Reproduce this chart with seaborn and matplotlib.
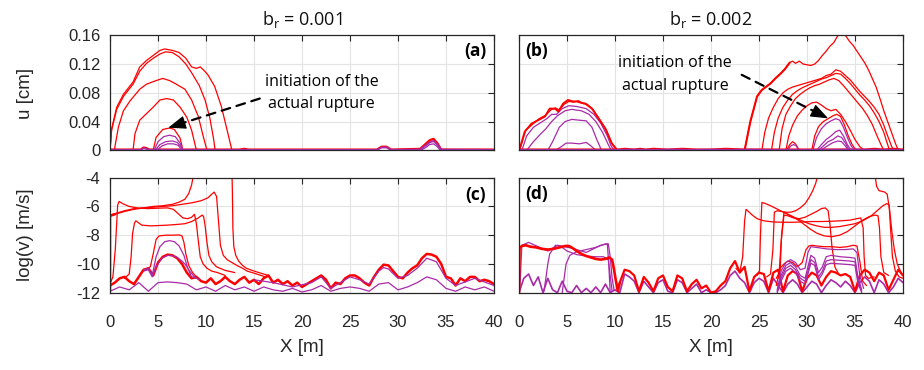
import matplotlib
matplotlib.use("Agg")
import matplotlib.pyplot as plt
import numpy as np
import pandas as pd
import seaborn as sns

sns.set_style("white")
plt.rcParams['font.family'] = ['Liberation Sans', 'DejaVu Sans']
plt.rcParams['axes.unicode_minus'] = False

RED = "#ff0000"
PURPLE = "#a92aa9"
INK = "#262626"

# ---------------- ticks / labels ----------------
x_ticks = [0, 5, 10, 15, 20, 25, 30, 35, 40]
x_tick_labels = ['0', '5', '10', '15', '20', '25', '30', '35', '40']
u_ticks = [0, 0.04, 0.08, 0.12, 0.16]
u_tick_labels = ['0', '0.04', '0.08', '0.12', '0.16']
v_ticks = [-12, -10, -8, -6, -4]
v_tick_labels = ['-12', '-10', '-8', '-6', '-4']
titles = [r'b$_\mathregular{r}$ = 0.001', r'b$_\mathregular{r}$ = 0.002']
panel_labels = ['(a)', '(b)', '(c)', '(d)']
note_lines = ['initiation of the', 'actual rupture']

# ---------------- panel (a): slip u [cm], b_r = 0.001 ----------------
a1_x = [0.0, 0.17, 0.7, 1.4, 2.4, 3.1, 3.8, 4.5, 5.2, 5.7, 6.1, 6.5, 7.2, 7.9, 8.5, 9.0, 9.4, 9.8, 10.2, 10.9, 11.6, 12.2, 12.7]
a1_u = [0.0, 0.030, 0.060, 0.078, 0.095, 0.116, 0.125, 0.132, 0.139, 0.141, 0.140, 0.139, 0.136, 0.128, 0.116, 0.114, 0.116, 0.111, 0.105, 0.089, 0.061, 0.028, 0.0]
a2_x = [0.0, 0.17, 0.7, 1.4, 2.4, 3.1, 3.8, 4.5, 5.2, 5.8, 6.5, 7.2, 7.9, 8.5, 9.3, 9.9, 10.4, 10.8, 10.95]
a2_u = [0.0, 0.028, 0.057, 0.075, 0.092, 0.110, 0.121, 0.128, 0.134, 0.137, 0.136, 0.130, 0.120, 0.108, 0.090, 0.070, 0.045, 0.015, 0.0]
a3_x = [0.45, 0.87, 1.4, 2.1, 3.1, 3.8, 4.8, 5.5, 6.2, 6.9, 7.8, 8.5, 9.2, 9.7, 10.1]
a3_u = [0.0, 0.032, 0.055, 0.069, 0.085, 0.092, 0.097, 0.100, 0.097, 0.092, 0.085, 0.070, 0.047, 0.020, 0.0]
a4_x = [2.4, 2.6, 3.1, 3.8, 4.5, 5.2, 5.9, 6.6, 7.3, 8.0, 8.5, 9.0]
a4_u = [0.0, 0.023, 0.042, 0.051, 0.060, 0.070, 0.072, 0.070, 0.060, 0.046, 0.028, 0.0]
a5_x = [4.5, 4.8, 5.5, 6.2, 6.7, 7.3, 7.6]
a5_u = [0.0, 0.018, 0.029, 0.031, 0.029, 0.017, 0.0]
ap1_x = [4.6, 5.0, 5.6, 6.2, 6.8, 7.3, 7.6]
ap1_u = [0.0, 0.012, 0.019, 0.021, 0.019, 0.010, 0.0]
ap2_x = [4.7, 5.2, 5.8, 6.5, 7.0, 7.4, 7.6]
ap2_u = [0.0, 0.008, 0.012, 0.013, 0.011, 0.005, 0.0]
ap3_x = [4.9, 5.4, 6.0, 6.6, 7.1, 7.5]
ap3_u = [0.0, 0.006, 0.009, 0.009, 0.007, 0.0]
a_base_red_x = [0.0, 3.2, 3.5, 3.8, 4.1, 13.5, 14.0, 14.4, 27.8, 28.3, 28.8, 29.3, 32.3, 32.8, 33.3, 33.7, 34.1, 34.5, 40.0]
a_base_red_u = [0.001, 0.001, 0.004, 0.003, 0.001, 0.001, 0.002, 0.001, 0.001, 0.005, 0.005, 0.001, 0.002, 0.008, 0.014, 0.016, 0.010, 0.001, 0.001]
a_base_pur_x = [0.0, 3.2, 3.5, 3.8, 4.1, 27.8, 28.3, 28.8, 29.3, 32.3, 32.8, 33.3, 33.7, 34.1, 34.5, 40.0]
a_base_pur_u = [0.0005, 0.0005, 0.003, 0.002, 0.0005, 0.0005, 0.004, 0.004, 0.0005, 0.001, 0.006, 0.011, 0.013, 0.008, 0.001, 0.0005]
a_bump_pur_x = [32.4, 32.9, 33.3, 33.7, 34.1, 34.4]
a_bump_pur_u = [0.0, 0.004, 0.008, 0.009, 0.005, 0.0]

# ---------------- panel (b): slip u [cm], b_r = 0.002 ----------------
b_left1_x = [0.0, 0.1, 0.6, 1.3, 2.0, 2.7, 3.2, 3.75, 4.1, 4.6, 5.1, 5.6, 6.0, 6.5, 6.9, 7.6, 8.3, 9.0, 9.65, 10.2]
b_left1_u = [0.0, 0.003, 0.026, 0.037, 0.042, 0.047, 0.058, 0.058, 0.054, 0.065, 0.070, 0.068, 0.068, 0.066, 0.065, 0.058, 0.044, 0.030, 0.010, 0.0]
b_left2_x = [0.0, 0.2, 0.7, 1.4, 2.1, 2.8, 3.3, 3.8, 4.2, 4.7, 5.2, 5.7, 6.2, 6.7, 7.1, 7.7, 8.4, 9.1, 9.7, 10.3]
b_left2_u = [0.0, 0.006, 0.028, 0.036, 0.044, 0.049, 0.056, 0.059, 0.056, 0.064, 0.068, 0.067, 0.069, 0.065, 0.064, 0.057, 0.043, 0.028, 0.009, 0.0]
bp1_x = [0.3, 0.8, 1.5, 2.2, 2.9, 3.4, 3.9, 4.5, 5.2, 6.0, 7.0, 7.8, 8.5, 9.2, 9.6, 9.9]
bp1_u = [0.0, 0.020, 0.032, 0.038, 0.044, 0.050, 0.050, 0.058, 0.062, 0.061, 0.058, 0.050, 0.038, 0.020, 0.006, 0.0]
bp2_x = [0.8, 1.5, 2.2, 2.8, 3.4, 4.0, 4.8, 5.5, 6.5, 7.3, 8.0, 8.7, 9.3, 9.6]
bp2_u = [0.0, 0.012, 0.022, 0.030, 0.040, 0.048, 0.055, 0.057, 0.055, 0.050, 0.040, 0.025, 0.008, 0.0]
bp3_x = [3.0, 3.5, 4.2, 4.8, 5.5, 6.2, 7.0, 7.6, 8.1, 8.6]
bp3_u = [0.0, 0.012, 0.032, 0.040, 0.043, 0.042, 0.041, 0.032, 0.015, 0.0]
bp4_x = [3.8, 4.4, 4.9, 5.5, 6.3, 7.0, 7.5, 8.0]
bp4_u = [0.0, 0.005, 0.010, 0.010, 0.009, 0.011, 0.006, 0.0]
b1_x = [23.5, 23.8, 24.1, 24.5, 24.8, 25.3, 25.8, 26.2, 26.7, 27.2, 27.7, 28.2, 28.5, 28.8, 29.2, 29.6, 30.0, 30.4, 30.8, 31.2, 31.6, 32.0, 32.4, 32.8, 33.1, 33.4, 33.7, 34.0, 34.4, 34.8, 35.2, 35.6, 36.0, 36.4, 36.8, 37.2, 37.6, 38.0, 38.4, 38.8, 39.2, 39.5]
b1_u = [0.0, 0.020, 0.040, 0.060, 0.075, 0.084, 0.089, 0.093, 0.100, 0.106, 0.113, 0.122, 0.124, 0.121, 0.124, 0.120, 0.119, 0.118, 0.120, 0.125, 0.132, 0.138, 0.145, 0.150, 0.157, 0.163, 0.165, 0.160, 0.152, 0.146, 0.138, 0.130, 0.122, 0.112, 0.100, 0.088, 0.072, 0.055, 0.040, 0.025, 0.010, 0.0]
b2_x = [25.3, 25.6, 26.0, 26.5, 27.0, 27.5, 28.0, 28.5, 29.0, 29.5, 30.0, 30.5, 31.0, 31.5, 32.0, 32.5, 33.0, 33.5, 34.0, 34.5, 35.0, 35.5, 36.0, 36.5, 37.0, 37.5, 38.0, 38.4, 38.8, 39.0]
b2_u = [0.0, 0.025, 0.045, 0.060, 0.072, 0.080, 0.085, 0.088, 0.090, 0.092, 0.094, 0.096, 0.098, 0.100, 0.104, 0.106, 0.112, 0.110, 0.104, 0.098, 0.090, 0.082, 0.075, 0.068, 0.060, 0.050, 0.035, 0.020, 0.006, 0.0]
b3_x = [26.3, 26.6, 27.0, 27.5, 28.0, 28.5, 29.0, 29.5, 30.0, 30.5, 31.0, 31.5, 32.0, 32.5, 33.0, 33.5, 34.0, 34.5, 35.0, 35.5, 36.0, 36.5, 37.0, 37.5, 38.0, 38.3, 38.6]
b3_u = [0.0, 0.025, 0.045, 0.060, 0.070, 0.078, 0.083, 0.087, 0.090, 0.093, 0.096, 0.099, 0.101, 0.104, 0.107, 0.106, 0.100, 0.093, 0.085, 0.077, 0.070, 0.062, 0.052, 0.040, 0.025, 0.012, 0.0]
b4_x = [27.1, 27.4, 27.8, 28.3, 28.8, 29.3, 29.8, 30.3, 30.8, 31.3, 31.8, 32.3, 32.8, 33.3, 33.8, 34.3, 34.8, 35.3, 35.8, 36.3, 36.8, 37.3, 37.7, 38.0]
b4_u = [0.0, 0.030, 0.050, 0.062, 0.072, 0.078, 0.083, 0.087, 0.090, 0.092, 0.095, 0.098, 0.100, 0.097, 0.090, 0.082, 0.074, 0.066, 0.058, 0.048, 0.036, 0.020, 0.008, 0.0]
b5_x = [27.8, 28.1, 28.5, 29.0, 29.5, 30.0, 30.5, 31.0, 31.5, 32.0, 32.5, 33.0, 33.5, 34.0, 34.5, 35.0, 35.5, 36.0]
b5_u = [0.0, 0.020, 0.035, 0.048, 0.056, 0.062, 0.066, 0.067, 0.063, 0.058, 0.055, 0.057, 0.050, 0.040, 0.028, 0.015, 0.005, 0.0]
b6_x = [30.5, 30.8, 31.2, 31.7, 32.2, 32.7, 33.1, 33.5, 33.9, 34.3, 34.7, 35.1]
b6_u = [0.0, 0.020, 0.033, 0.040, 0.044, 0.048, 0.050, 0.047, 0.035, 0.020, 0.008, 0.0]
bp5_x = [30.6, 31.0, 31.5, 32.0, 32.5, 33.0, 33.4, 33.8, 34.2, 34.6, 35.0]
bp5_u = [0.0, 0.018, 0.030, 0.037, 0.041, 0.044, 0.042, 0.032, 0.018, 0.006, 0.0]
bp6_x = [31.0, 31.5, 32.0, 32.5, 33.0, 33.4, 33.8, 34.2, 34.6]
bp6_u = [0.0, 0.008, 0.015, 0.020, 0.026, 0.028, 0.020, 0.008, 0.0]
bp7_x = [31.2, 31.7, 32.2, 32.7, 33.2, 33.6, 34.0, 34.4]
bp7_u = [0.0, 0.006, 0.012, 0.015, 0.020, 0.018, 0.010, 0.0]
bp8_x = [31.4, 32.0, 32.6, 33.2, 33.6, 34.0, 34.3]
bp8_u = [0.0, 0.005, 0.010, 0.013, 0.012, 0.006, 0.0]
b_bump_red_x = [27.9, 28.2, 28.5, 28.8, 29.2]
b_bump_red_u = [0.0, 0.008, 0.012, 0.009, 0.0]
b_bump_pur_x = [28.0, 28.3, 28.6, 28.9, 29.1]
b_bump_pur_u = [0.0, 0.006, 0.008, 0.006, 0.0]
b_base_red_x = [0.0, 10.3, 11.0, 12.0, 12.6, 13.2, 14.0, 15.5, 17.0, 18.5, 20.0, 21.5, 23.5, 36.0, 37.0, 38.0, 39.0, 40.0]
b_base_red_u = [0.001, 0.001, 0.002, 0.001, 0.002, 0.001, 0.002, 0.001, 0.002, 0.001, 0.001, 0.002, 0.001, 0.001, 0.002, 0.001, 0.002, 0.001]
b_base_pur_x = [0.0, 10.0, 12.0, 14.0, 16.0, 18.0, 20.0, 22.0, 24.0, 27.0, 30.0, 35.0, 40.0]
b_base_pur_u = [0.0005, 0.0005, 0.001, 0.0005, 0.001, 0.0005, 0.001, 0.0005, 0.001, 0.0005, 0.0005, 0.001, 0.0005]

# ---------------- panel (c): log(v) [m/s], b_r = 0.001 ----------------
c_top1_x = [0.0, 0.0, 0.5, 1.5, 2.5, 3.5, 4.5, 5.5, 6.5, 7.2, 7.8, 8.2, 8.5, 8.7, 8.8]
c_top1_v = [-11.9, -6.65, -6.55, -6.35, -6.2, -6.1, -6.0, -5.95, -5.85, -5.7, -5.5, -5.1, -4.5, -3.8, -3.0]
c_top2_x = [0.0, 0.5, 1.5, 2.5, 3.5, 4.5, 5.5, 6.5, 7.5, 8.5, 9.5, 10.2, 10.6, 10.85, 11.1, 11.3, 11.5, 11.8, 12.2, 12.7, 13.2, 13.8, 14.3, 14.8, 15.5, 16.2]
c_top2_v = [-6.6, -6.5, -6.3, -6.15, -6.1, -6.05, -6.0, -5.95, -5.85, -5.75, -5.6, -5.4, -5.15, -5.0, -5.3, -7.0, -8.7, -9.4, -9.7, -9.9, -10.1, -10.3, -10.5, -10.6, -10.75, -10.9]
c_mid1_x = [0.05, 0.3, 0.55, 0.8, 0.95, 1.3, 2.0, 3.0, 4.0, 5.0, 6.0, 6.6, 7.1, 7.6, 8.1, 8.5, 8.8, 9.0, 9.2, 9.4, 9.7, 10.1, 10.6, 11.2, 12.0]
c_mid1_v = [-11.3, -10.9, -9.0, -5.9, -5.65, -5.8, -6.0, -6.12, -6.15, -6.12, -6.1, -6.2, -6.5, -6.8, -6.85, -6.75, -6.55, -7.2, -8.4, -9.5, -10.0, -10.3, -10.5, -10.6, -10.8]
c_mid2_x = [1.5, 2.0, 2.2, 2.35, 2.55, 2.7, 3.3, 4.2, 5.0, 6.0, 7.0, 7.8, 8.5, 9.2, 9.6, 9.75, 9.9, 10.1, 10.3, 10.6, 11.1, 12.0, 13.0]
c_mid2_v = [-11.0, -10.7, -9.5, -7.9, -7.15, -7.0, -7.3, -7.35, -7.33, -7.3, -7.25, -7.2, -7.05, -6.8, -6.6, -6.7, -7.3, -8.5, -9.4, -9.85, -10.2, -10.45, -10.6]
c_mid3_x = [3.9, 4.2, 4.5, 4.8, 5.1, 5.8, 6.5, 7.2, 7.5, 7.7, 7.9, 8.2, 8.6, 9.0]
c_mid3_v = [-10.3, -10.2, -9.3, -8.3, -8.05, -8.0, -8.0, -7.98, -8.05, -8.5, -9.3, -10.1, -10.6, -10.9]
c_front_x = [0.0, 12.6, 12.7, 12.75, 12.8, 12.9, 13.1, 13.4, 13.8, 14.2, 14.8, 15.5, 16.5]
c_front_v = [-3.0, -3.0, -3.5, -5.0, -7.5, -8.8, -9.4, -9.8, -10.1, -10.3, -10.45, -10.6, -10.8]
c_base_red_x = list(np.arange(0, 40.5, 0.5))
c_base_red_v = [-11.5, -11.3, -11.0, -10.9, -11.2, -11.4, -10.9, -10.4, -10.3, -10.8,
                -9.9, -9.5, -9.35, -9.4, -9.6, -10.0, -10.6, -11.0, -10.9, -11.2,
                -11.3, -11.0, -11.4, -11.2, -10.9, -11.2, -11.4, -11.1, -10.9, -11.3,
                -11.1, -11.4, -11.0, -10.8, -11.3, -11.1, -11.4, -11.2, -11.5, -11.3,
                -11.6, -11.4, -11.2, -11.0, -10.8, -11.1, -11.7, -11.3, -11.4, -11.0,
                -10.8, -10.8, -11.0, -11.3, -11.5, -10.9, -10.4, -10.05, -10.1, -10.5,
                -10.9, -11.0, -10.6, -10.3, -10.1, -9.6, -9.3, -9.35, -9.5, -10.0,
                -10.9, -11.0, -11.5, -11.0, -11.2, -10.9, -10.9, -11.2, -11.1, -11.2, -11.4]
cp1_x = [3.5, 4.0, 4.4, 4.8, 5.2, 5.7, 6.2, 6.7, 7.2, 7.7, 8.1, 8.5, 9.0]
cp1_v = [-10.4, -10.3, -10.8, -9.5, -8.8, -8.45, -8.38, -8.45, -8.75, -9.4, -10.3, -10.9, -11.0]
cp2_x = [3.5, 4.0, 4.4, 4.8, 5.4, 6.1, 6.9, 7.5, 7.8, 8.3, 8.8, 9.3]
cp2_v = [-10.5, -10.4, -10.9, -10.2, -9.6, -9.38, -9.5, -9.8, -10.0, -10.5, -10.9, -11.1]
cp_low_x = list(np.arange(0, 41, 1))
cp_low_v = [-11.9, -11.6, -11.8, -11.3, -11.9, -11.3, -11.25, -11.3, -11.4, -11.8,
            -11.6, -11.9, -11.5, -11.8, -11.6, -11.9, -11.6, -11.8, -11.9, -11.7,
            -11.95, -11.8, -11.5, -11.9, -11.7, -11.6, -11.7, -11.9, -11.4, -11.3,
            -11.8, -11.6, -11.3, -10.9, -11.1, -11.7, -11.9, -11.6, -11.8, -11.6, -11.9]
cp_hi_x = [15.0, 17.0, 19.0, 21.0, 22.0, 23.0, 25.0, 26.0, 27.0, 28.0, 28.5, 29.0, 30.0, 31.0, 32.0, 33.0, 34.0, 35.0, 36.0, 38.0, 40.0]
cp_hi_v = [-11.1, -11.3, -11.6, -11.3, -10.9, -11.7, -10.9, -11.1, -11.4, -10.5, -10.25, -10.35, -11.0, -10.8, -10.3, -9.6, -9.85, -11.0, -11.5, -11.0, -11.5]

# ---------------- panel (d): log(v) [m/s], b_r = 0.002 ----------------
d_left_red_x = [0.0, 0.05, 0.3, 0.7, 1.2, 1.8, 2.4, 3.0, 3.6, 4.2, 4.8, 5.2, 5.6, 6.0, 6.5, 7.0, 7.5, 8.0, 8.5, 9.0, 9.4, 9.7, 9.9, 10.1, 10.3, 10.5]
d_left_red_v = [-12.0, -8.9, -8.75, -8.7, -8.8, -8.85, -8.95, -9.0, -8.95, -8.85, -8.75, -8.75, -8.9, -9.1, -9.3, -9.45, -9.55, -9.65, -9.7, -9.65, -9.55, -9.7, -10.4, -11.2, -11.9, -11.3]
dp1_x = [0.1, 0.3, 1.0, 2.0, 3.0, 4.0, 5.5, 7.0, 8.5, 9.3, 9.5, 9.7, 9.9]
dp1_v = [-11.5, -8.7, -8.5, -8.8, -9.1, -8.7, -8.9, -9.2, -8.7, -8.6, -9.5, -11.0, -11.8]
dp2_x = [2.6, 2.8, 3.0, 3.2, 3.8, 4.4, 5.0, 6.0, 7.0, 8.0, 8.8, 9.3, 9.5, 9.7]
dp2_v = [-11.9, -11.0, -10.0, -9.3, -8.7, -8.8, -9.1, -9.35, -9.45, -9.5, -9.5, -9.7, -10.8, -11.9]
dp3_x = [4.5, 4.7, 4.9, 5.3, 6.0, 7.0, 8.0, 8.6, 9.0, 9.2, 9.35, 9.5]
dp3_v = [-12.0, -11.0, -10.0, -9.4, -9.15, -9.0, -8.85, -8.7, -8.6, -8.6, -10.0, -12.0]
d1_x = [22.6, 23.0, 23.3, 23.5, 23.65, 23.9, 24.3, 24.8, 25.5, 26.5, 27.5, 28.5, 29.5, 30.5, 31.5, 32.5, 33.5, 34.5, 35.2, 35.6, 35.85, 35.95, 36.1, 36.4, 37.0]
d1_v = [-10.3, -10.6, -9.5, -7.0, -6.2, -6.35, -6.6, -6.85, -7.0, -7.08, -7.1, -7.1, -7.08, -7.05, -7.05, -7.03, -7.0, -6.95, -6.85, -6.8, -7.5, -9.5, -10.8, -11.0, -10.9]
d2_x = [24.8, 25.05, 25.15, 25.3, 25.6, 26.2, 26.8, 27.4, 28.0, 28.6, 29.2, 29.8, 30.4, 31.0, 31.8, 32.6, 33.4, 34.2, 35.0, 35.8, 36.5, 37.1, 37.4, 37.55, 37.7, 38.0, 38.5]
d2_v = [-10.8, -10.5, -8.0, -5.72, -5.78, -5.95, -6.15, -6.35, -6.55, -6.75, -7.0, -7.3, -7.6, -7.85, -8.05, -8.1, -8.0, -7.75, -7.35, -6.95, -6.7, -6.6, -6.65, -7.5, -9.5, -10.6, -10.8]
d3_x = [25.8, 26.2, 26.45, 26.6, 26.9, 27.3, 27.8, 28.3, 28.8, 29.3, 29.8, 30.2, 30.6, 30.9, 31.1, 31.3]
d3_v = [-10.9, -10.7, -9.0, -6.4, -6.3, -6.35, -6.4, -6.4, -6.3, -6.1, -5.8, -5.4, -4.9, -4.4, -3.9, -3.4]
d4_x = [26.8, 27.1, 27.3, 27.6, 28.0, 28.6, 29.2, 29.8, 30.4, 31.0, 31.5, 31.9, 32.2, 32.4, 32.6, 32.9, 33.3]
d4_v = [-11.0, -10.6, -8.5, -6.6, -6.65, -6.8, -6.85, -6.75, -6.55, -6.35, -6.15, -6.1, -6.3, -7.3, -8.8, -10.2, -10.7]
d5_x = [27.0, 27.2, 27.35, 27.6, 28.2, 28.8, 29.5, 30.2, 31.0, 31.8, 32.6, 33.4, 34.2, 35.0, 35.8, 36.6, 37.3, 37.9, 38.3, 38.55, 38.7, 38.9, 39.2, 39.6, 40.0]
d5_v = [-11.0, -10.5, -8.0, -6.4, -6.6, -6.8, -7.0, -7.2, -7.35, -7.45, -7.45, -7.4, -7.3, -7.2, -7.0, -6.7, -6.3, -5.95, -5.8, -5.9, -7.5, -9.5, -10.5, -10.9, -11.0]
d6_x = [36.9, 37.1, 37.25, 37.5, 37.8, 38.1, 38.35, 38.6, 38.85, 39.1, 39.4, 39.8, 40.0]
d6_v = [-3.0, -3.9, -4.6, -4.9, -4.95, -5.0, -5.15, -6.2, -7.8, -9.0, -10.0, -10.6, -10.8]
d_mid_red_x = [26.8, 27.2, 27.6, 28.0, 28.5, 29.0, 29.5, 29.9, 30.2, 30.5, 31.0, 31.8, 32.6, 33.4, 34.2, 34.8, 35.2, 35.5, 35.8, 36.2]
d_mid_red_v = [-11.5, -10.3, -10.0, -9.8, -9.9, -10.2, -9.9, -9.0, -8.75, -8.7, -8.75, -8.8, -8.8, -8.85, -8.8, -8.7, -8.75, -9.8, -11.2, -11.5]
dq1_x = [26.9, 27.3, 27.8, 28.3, 28.8, 29.3, 29.8, 30.1, 30.4, 31.0, 32.0, 33.0, 34.0, 34.8, 35.2, 35.5, 35.9]
dq1_v = [-11.8, -10.5, -9.9, -9.7, -9.9, -10.4, -10.3, -9.2, -8.8, -8.85, -8.95, -9.0, -9.0, -8.95, -9.2, -10.8, -11.7]
dq2_x = [26.9, 27.3, 27.8, 28.3, 28.8, 29.3, 29.8, 30.1, 30.4, 30.8, 31.2, 31.6, 32.0, 32.5, 33.5, 34.5, 35.0, 35.3, 35.7]
dq2_v = [-11.9, -10.8, -10.1, -9.9, -10.2, -10.8, -11.0, -10.2, -9.4, -9.6, -10.6, -10.2, -9.5, -9.4, -9.5, -9.55, -9.6, -10.9, -11.8]
dq3_v = [-11.9, -11.0, -10.3, -10.1, -10.4, -11.0, -11.2, -10.5, -9.7, -9.9, -10.9, -10.5, -9.8, -9.7, -9.75, -9.8, -9.85, -11.1, -11.9]
dq4_v = [-12.0, -11.2, -10.5, -10.3, -10.6, -11.2, -11.4, -10.7, -9.95, -10.1, -11.1, -10.7, -10.05, -9.95, -10.0, -10.05, -10.1, -11.3, -12.0]
d_base_red_x = list(np.arange(10.5, 40.5, 0.5))
d_base_red_v = [-11.3, -10.4, -10.5, -10.8, -11.9, -10.9, -11.3, -11.9, -11.0, -10.8,
                -11.6, -11.9, -10.8, -11.0, -11.9, -11.4, -11.1, -11.7, -11.5, -12.0,
                -11.9, -11.5, -11.2, -10.3, -9.8, -10.6, -10.2, -11.9, -10.9, -10.6,
                -10.7, -11.9, -10.6, -10.4, -11.9, -10.8, -10.5, -10.7, -11.9, -11.0,
                -10.6, -10.8, -11.5, -10.9, -10.5, -10.6, -10.8, -10.7, -10.9, -11.9,
                -10.8, -10.4, -10.6, -11.2, -10.6, -10.8, -11.8, -11.1, -10.4, -10.8]
d_base_pur_x = list(np.arange(0, 40.5, 0.5))
d_base_pur_v = [-12.0, -11.0, -10.7, -11.5, -10.9, -12.0, -11.0, -11.8, -12.0, -11.2,
                -11.9, -12.0, -11.5, -12.0, -11.7, -12.0, -11.6, -12.0, -11.4, -12.0,
                -11.8, -12.0, -10.7, -10.9, -11.2, -12.0, -11.2, -11.6, -12.0, -11.3,
                -11.1, -11.9, -12.0, -11.1, -11.3, -12.0, -11.7, -11.4, -12.0, -11.8,
                -12.0, -12.0, -11.8, -11.5, -10.8, -10.5, -11.0, -11.3, -12.0, -11.3,
                -11.0, -11.2, -12.0, -11.0, -11.5, -12.0, -11.4, -11.1, -11.4, -12.0,
                -11.6, -11.2, -11.4, -12.0, -11.5, -11.1, -11.3, -11.6, -11.2, -11.5,
                -12.0, -11.3, -10.9, -11.2, -12.0, -11.1, -11.4, -12.0, -11.6, -11.0, -11.3]

# annotation anchor points (data coordinates)
note_a_xy = (22.05, 0.0954, 0.0644)
arrow_a = ((15.6, 0.072), (6.08, 0.0315))
note_b_xy = (16.25, 0.121, 0.089)
arrow_b = ((23.2, 0.105), (32.2, 0.0445))

# ---------------- drawing ----------------
FIG_W, FIG_H = 924, 370
fig = plt.figure(figsize=(9.24, 3.70), dpi=100)

def frac(l, t, r, b):
    return [l / FIG_W, 1 - b / FIG_H, (r - l) / FIG_W, (b - t) / FIG_H]

ax_a = fig.add_axes(frac(110, 35.3, 494, 150.3))
ax_b = fig.add_axes(frac(519, 35.3, 903, 150.3))
ax_c = fig.add_axes(frac(110, 177.7, 494, 292.7))
ax_d = fig.add_axes(frac(519, 177.7, 903, 292.7))


def line(ax, xs, ys, color, lw=0.9, z=2):
    df = pd.DataFrame({'x': xs, 'y': ys})
    sns.lineplot(data=df, x='x', y='y', ax=ax, color=color, lw=lw,
                 sort=False, estimator=None, legend=False, zorder=z)

# (a)
for xs, ys in [(a1_x, a1_u), (a2_x, a2_u), (a3_x, a3_u), (a4_x, a4_u), (a5_x, a5_u)]:
    line(ax_a, xs, ys, RED)
line(ax_a, a_base_red_x, a_base_red_u, RED, lw=1.6)
for xs, ys in [(ap1_x, ap1_u), (ap2_x, ap2_u), (ap3_x, ap3_u), (a_bump_pur_x, a_bump_pur_u)]:
    line(ax_a, xs, ys, PURPLE)
line(ax_a, a_base_pur_x, a_base_pur_u, PURPLE, lw=1.4)

# (b)
for xs, ys in [(bp1_x, bp1_u), (bp2_x, bp2_u), (bp3_x, bp3_u), (bp4_x, bp4_u)]:
    line(ax_b, xs, ys, PURPLE)
line(ax_b, b_left1_x, b_left1_u, RED, lw=1.4)
line(ax_b, b_left2_x, b_left2_u, RED, lw=0.9)
for xs, ys in [(b1_x, b1_u), (b2_x, b2_u), (b3_x, b3_u), (b4_x, b4_u), (b5_x, b5_u), (b6_x, b6_u)]:
    line(ax_b, xs, ys, RED)
line(ax_b, b1_x[:12], b1_u[:12], RED, lw=1.5)
line(ax_b, b_bump_red_x, b_bump_red_u, RED)
line(ax_b, b_base_red_x, b_base_red_u, RED, lw=1.6)
for xs, ys in [(bp5_x, bp5_u), (bp6_x, bp6_u), (bp7_x, bp7_u), (bp8_x, bp8_u), (b_bump_pur_x, b_bump_pur_u)]:
    line(ax_b, xs, ys, PURPLE)
line(ax_b, b_base_pur_x, b_base_pur_u, PURPLE, lw=1.4)

# (c)
line(ax_c, c_base_red_x, c_base_red_v, RED, lw=1.8)
for xs, ys in [(c_top1_x, c_top1_v), (c_top2_x, c_top2_v), (c_mid1_x, c_mid1_v),
               (c_mid2_x, c_mid2_v), (c_mid3_x, c_mid3_v), (c_front_x, c_front_v)]:
    line(ax_c, xs, ys, RED)
line(ax_c, c_top1_x[:3], c_top1_v[:3], RED, lw=1.8)
for xs, ys in [(cp1_x, cp1_v), (cp2_x, cp2_v), (cp_low_x, cp_low_v), (cp_hi_x, cp_hi_v)]:
    line(ax_c, xs, ys, PURPLE)

# (d)
line(ax_d, d_base_pur_x, d_base_pur_v, PURPLE, lw=1.2)
for xs, ys in [(dp1_x, dp1_v), (dp2_x, dp2_v), (dp3_x, dp3_v)]:
    line(ax_d, xs, ys, PURPLE)
line(ax_d, d_left_red_x, d_left_red_v, RED, lw=1.9)
line(ax_d, d_base_red_x, d_base_red_v, RED, lw=1.6)
for xs, ys in [(d1_x, d1_v), (d2_x, d2_v), (d3_x, d3_v), (d4_x, d4_v), (d5_x, d5_v), (d6_x, d6_v), (d_mid_red_x, d_mid_red_v)]:
    line(ax_d, xs, ys, RED)
line(ax_d, dq1_x, dq1_v, PURPLE)
for ys in [dq2_v, dq3_v, dq4_v]:
    line(ax_d, dq2_x, ys, PURPLE)

# axes styling
for i, ax in enumerate([ax_a, ax_b, ax_c, ax_d]):
    ax.set_xlim(0, 40)
    ax.set_xticks(x_ticks)
    if i < 2:
        ax.set_ylim(0, 0.16)
        ax.set_yticks(u_ticks)
        ax.set_yticklabels(u_tick_labels if i == 0 else [])
        ax.set_xticklabels([])
    else:
        ax.set_ylim(-12, -4)
        ax.set_yticks(v_ticks)
        ax.set_yticklabels(v_tick_labels if i == 2 else [])
        ax.set_xticklabels(x_tick_labels)
    ax.set_xlabel('')
    ax.set_ylabel('')
    ax.grid(True, color='#e3e3e3', lw=0.8)
    ax.set_axisbelow(True)
    for s in ax.spines.values():
        s.set_color(INK)
        s.set_linewidth(0.9)
        s.set_zorder(5)
    ax.tick_params(axis='both', direction='in', length=4, width=0.8, color=INK,
                   labelcolor=INK, labelsize=12, top=True, right=True)
    ax.tick_params(axis='x', pad=16)
    ax.tick_params(axis='y', pad=7)

# panel labels
lab_font = dict(family=['Open Sans', 'DejaVu Sans'], fontsize=12.5, fontweight='bold', color='black')
ax_a.text(0.98, 0.86, panel_labels[0], transform=ax_a.transAxes, ha='right', va='center', **lab_font)
ax_b.text(0.015, 0.86, panel_labels[1], transform=ax_b.transAxes, ha='left', va='center', **lab_font)
ax_c.text(0.98, 0.85, panel_labels[2], transform=ax_c.transAxes, ha='right', va='center', **lab_font)
ax_d.text(0.015, 0.86, panel_labels[3], transform=ax_d.transAxes, ha='left', va='center', **lab_font)

# annotations
note_font = dict(family=['Open Sans', 'DejaVu Sans'], fontsize=11.5, color='black', ha='center', va='center')


def dashed_arrow(ax, start, tip):
    ax.annotate('', xy=tip, xytext=start, zorder=6,
                arrowprops=dict(arrowstyle='-', color='black', lw=1.6, ls=(0, (4, 3)),
                                shrinkA=0, shrinkB=7))
    back = (tip[0] + 0.12 * (start[0] - tip[0]), tip[1] + 0.12 * (start[1] - tip[1]))
    ax.annotate('', xy=tip, xytext=back, zorder=7,
                arrowprops=dict(arrowstyle='-|>,head_length=1.1,head_width=0.42', color='black',
                                lw=0.8, shrinkA=0, shrinkB=0, mutation_scale=10))

for ax, (nx, ny1, ny2), (st, tp) in [(ax_a, note_a_xy, arrow_a), (ax_b, note_b_xy, arrow_b)]:
    ax.text(nx, ny1, note_lines[0], **note_font)
    ax.text(nx, ny2, note_lines[1], **note_font)
    dashed_arrow(ax, st, tp)

# titles and axis labels
title_font = dict(family=['Open Sans', 'DejaVu Sans'], fontsize=13, color='#111111', ha='center', va='center')
fig.text(302 / FIG_W, 1 - 20 / FIG_H, titles[0], **title_font)
fig.text(711 / FIG_W, 1 - 20 / FIG_H, titles[1], **title_font)
lab = dict(fontsize=13.5, color=INK, ha='center', va='center')
fig.text(302 / FIG_W, 1 - 347 / FIG_H, 'X [m]', **lab)
fig.text(711 / FIG_W, 1 - 347 / FIG_H, 'X [m]', **lab)
fig.text(26 / FIG_W, 1 - 93 / FIG_H, 'u [cm]', rotation=90, **lab)
fig.text(25 / FIG_W, 1 - 235 / FIG_H, 'log(v) [m/s]', rotation=90, **lab)

fig.savefig('out.png', dpi=100)
